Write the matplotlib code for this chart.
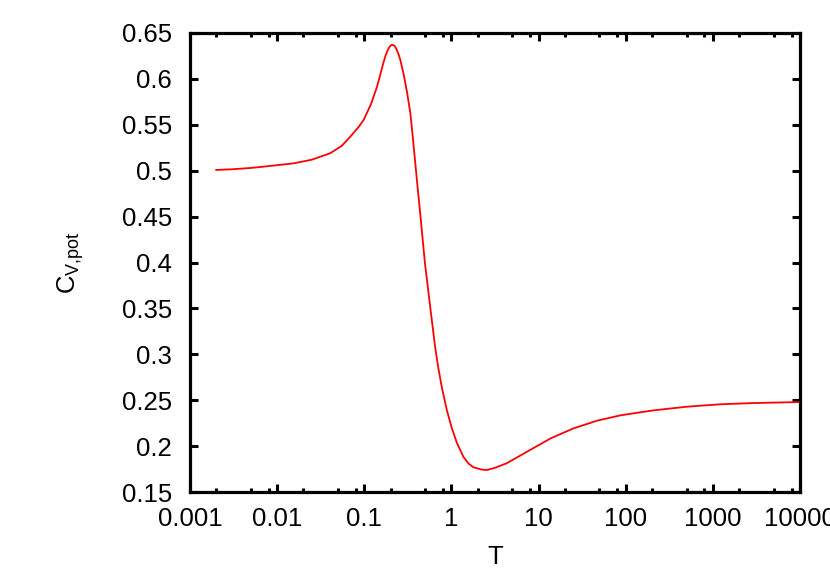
import matplotlib
matplotlib.use('Agg')
import matplotlib.pyplot as plt
from matplotlib.ticker import LogLocator, FixedLocator, NullFormatter

# values
temperature = [0.002, 0.003, 0.005, 0.008, 0.0154, 0.025, 0.0406, 0.055, 0.069,
               0.085, 0.098, 0.12, 0.14, 0.155, 0.165, 0.175, 0.185, 0.195,
               0.205, 0.214, 0.225, 0.235, 0.247, 0.26, 0.283, 0.31, 0.338,
               0.36, 0.385, 0.41, 0.438, 0.497, 0.57, 0.65, 0.71, 0.78, 0.887,
               1.0, 1.15, 1.37, 1.57, 1.79, 2.2, 2.57, 3.2, 4.3, 5.5, 7.4, 10,
               13.8, 25.3, 47, 87, 146, 212, 500, 1200, 2900, 10000]
cv_pot = [0.5008, 0.5015, 0.503, 0.505, 0.508, 0.512, 0.519, 0.527, 0.537,
          0.547, 0.555, 0.573, 0.5915, 0.607, 0.617, 0.625, 0.631, 0.635,
          0.637, 0.637, 0.6355, 0.632, 0.627, 0.620, 0.605, 0.585, 0.5625,
          0.537, 0.508, 0.481, 0.4536, 0.399, 0.352, 0.308, 0.284, 0.263,
          0.239, 0.221, 0.204, 0.1884, 0.181, 0.1769, 0.1745, 0.174, 0.1765,
          0.1813, 0.187, 0.194, 0.201, 0.2085, 0.2194, 0.2277, 0.2335, 0.2368,
          0.2390, 0.2429, 0.2455, 0.2469, 0.248]

x_ticks = [0.001, 0.01, 0.1, 1, 10, 100, 1000, 10000]
x_tick_labels = ['0.001', '0.01', '0.1', '1', '10', '100', '1000', '10000']
y_ticks = [0.15, 0.2, 0.25, 0.3, 0.35, 0.4, 0.45, 0.5, 0.55, 0.6, 0.65]
y_tick_labels = ['0.15', '0.2', '0.25', '0.3', '0.35', '0.4', '0.45', '0.5',
                 '0.55', '0.6', '0.65']


def main():
    plt.rcParams['font.family'] = ['Liberation Sans', 'DejaVu Sans']
    plt.rcParams['mathtext.default'] = 'regular'

    fig = plt.figure(figsize=(8.3, 5.81), dpi=100)
    ax = fig.add_axes([190 / 830, 1 - 492 / 581, 610 / 830, 459 / 581])

    ax.plot(temperature, cv_pot, color='#ff0000', linewidth=1.3)

    ax.set_xscale('log')
    ax.set_xlim(0.001, 10000)
    ax.set_ylim(0.15, 0.65)

    ax.xaxis.set_major_locator(FixedLocator(x_ticks))
    ax.set_xticklabels(x_tick_labels)
    ax.xaxis.set_minor_locator(LogLocator(base=10, subs=[2, 5, 8], numticks=20))
    ax.xaxis.set_minor_formatter(NullFormatter())
    ax.set_yticks(y_ticks)
    ax.set_yticklabels(y_tick_labels)

    for side in ax.spines.values():
        side.set_linewidth(2.3)

    ax.tick_params(which='both', direction='in', top=True, right=True,
                   labelsize=18.5, width=2.2)
    ax.tick_params(which='major', length=6)
    ax.tick_params(which='minor', length=3)
    ax.tick_params(axis='x', pad=11)
    ax.tick_params(axis='y', pad=13)

    ax.set_xlabel('T', fontsize=18.5, labelpad=10)
    ax.set_ylabel('C$_{V{,}pot}$', fontsize=18.5, labelpad=26)

    fig.savefig('out.png', dpi=100)


if __name__ == '__main__':
    main()
